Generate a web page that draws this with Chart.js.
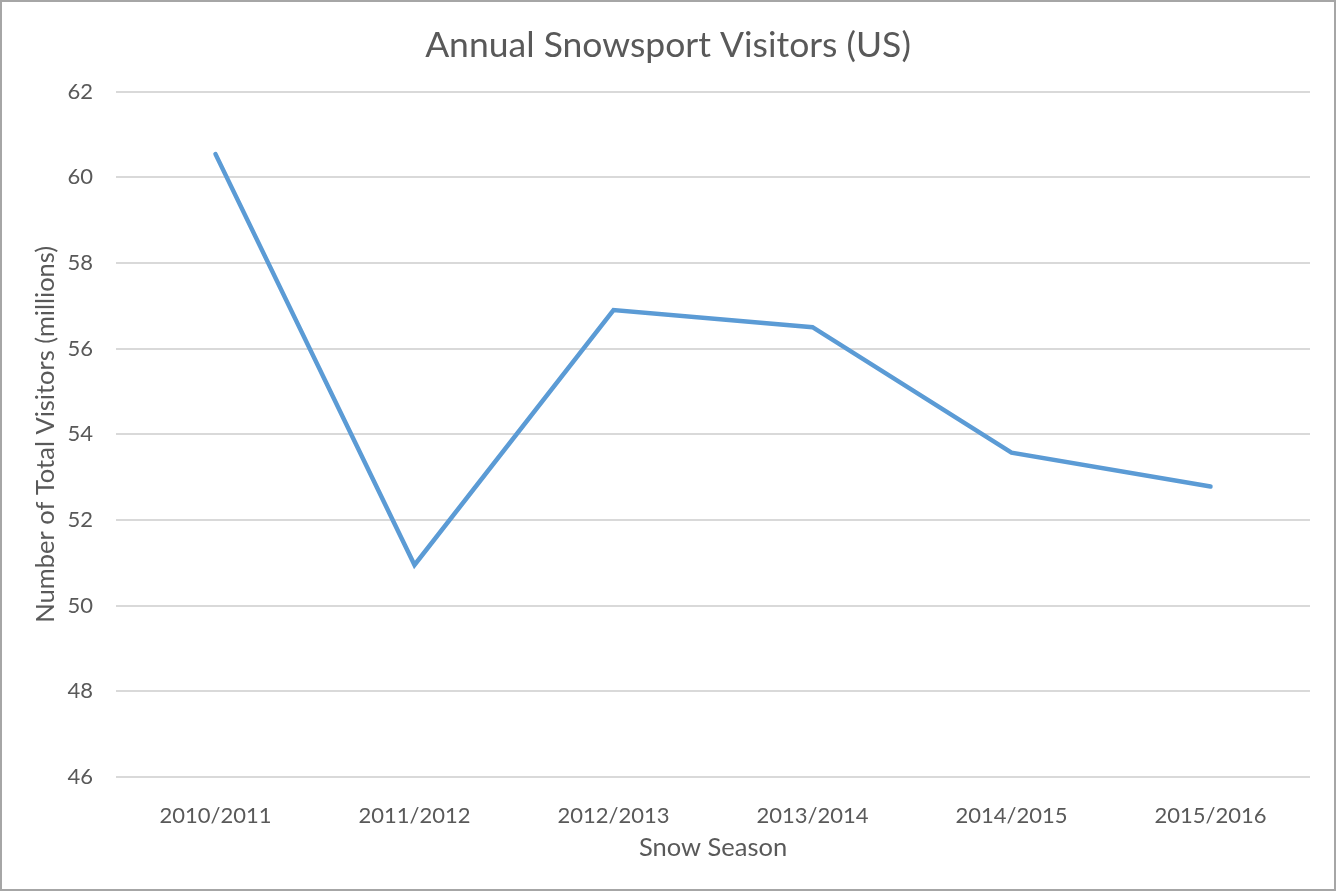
<!DOCTYPE html>
<html>
<head>
<meta charset="utf-8">
<script src="https://cdn.jsdelivr.net/npm/chart.js@4"></script>
<style>
  html, body { margin: 0; padding: 0; background: #fff; }
  #box { position: relative; width: 1336px; height: 891px; }
  #frame { position: absolute; left: 0; top: 0; width: 1336px; height: 891px;
           box-sizing: border-box; border: 2px solid #a6a6a6; pointer-events: none; }
</style>
</head>
<body>
<div id="box">
  <canvas id="chart" width="1336" height="891"></canvas>
  <div id="frame"></div>
</div>
<script>
const seasons = ["2010/2011", "2011/2012", "2012/2013", "2013/2014", "2014/2015", "2015/2016"];
const visitors = [60.54, 50.95, 56.9, 56.5, 53.57, 52.78];
const yMin = 46;
const yMax = 62;
const yStep = 2;

const fontFamily = "Lato, 'Open Sans', sans-serif";
const textColor = "#595959";

new Chart(document.getElementById("chart"), {
    type: "line",
    data: {
        labels: seasons,
        datasets: [{
            data: visitors,
            borderColor: "#5b9bd5",
            borderWidth: 4.5,
            borderCapStyle: "round",
            borderJoinStyle: "miter",
            pointRadius: 0,
            tension: 0
        }]
    },
    options: {
        responsive: false,
        animation: false,
        layout: { padding: { left: 26, right: 26, top: 0, bottom: 0 } },
        plugins: {
            legend: { display: false },
            tooltip: { enabled: false },
            title: {
                display: true,
                text: "Annual Snowsport Visitors (US)",
                color: textColor,
                font: { family: fontFamily, size: 35.5, weight: "normal" },
                padding: { top: 24, bottom: 25 }
            }
        },
        scales: {
            x: {
                offset: true,
                grid: { display: false, offset: true },
                border: { display: false },
                ticks: {
                    color: textColor,
                    font: { family: fontFamily, size: 22 },
                    padding: 18,
                    maxRotation: 0
                },
                title: {
                    display: true,
                    text: "Snow Season",
                    color: textColor,
                    font: { family: fontFamily, size: 25.5 },
                    padding: { top: 0, bottom: 28 }
                },
                afterFit: s => { s.height = 114; }
            },
            y: {
                min: yMin,
                max: yMax,
                grid: { color: "#d9d9d9", lineWidth: 2, drawTicks: false },
                border: { display: false },
                ticks: {
                    stepSize: yStep,
                    color: textColor,
                    font: { family: fontFamily, size: 22 },
                    padding: 23
                },
                title: {
                    display: true,
                    text: "Number of Total Visitors (millions)",
                    color: textColor,
                    font: { family: fontFamily, size: 25.5 },
                    padding: { top: 4, bottom: 0 }
                },
                afterFit: s => { s.width = 90; }
            }
        }
    }
});
</script>
</body>
</html>
